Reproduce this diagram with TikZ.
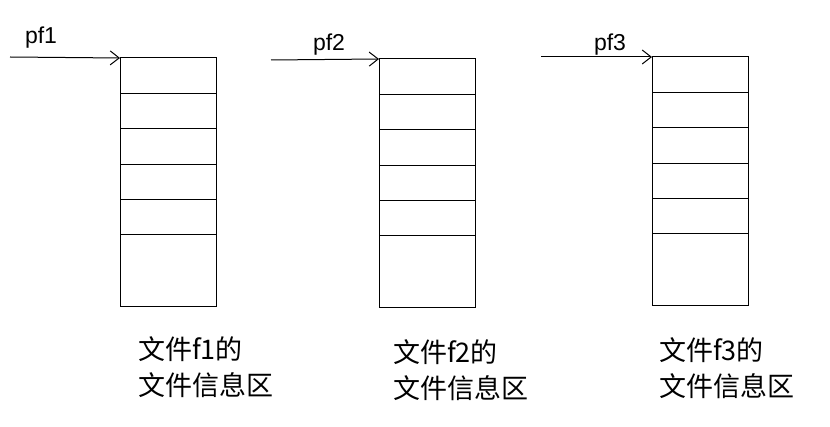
\documentclass[tikz,border=0pt]{standalone}
\usepackage{fontspec}
\setmainfont{Liberation Sans}
\newfontfamily\cjk{Noto Sans CJK SC}
\usetikzlibrary{arrows.meta}
\begin{document}
\begin{tikzpicture}[x=1pt,y=-1pt,
  cell/.style={draw,line width=1pt},
  ptr/.style={-{Straight Barb[length=9pt,width=14pt]},line width=1pt},
  lab/.style={font=\fontsize{23}{25}\selectfont,inner sep=0pt},
  captext/.style={font=\cjk\fontsize{27}{36}\selectfont,align=left,inner sep=0pt,anchor=north west}]
\useasboundingbox (0,0) rectangle (830,427);
\foreach \bx/\top/\name in {120/58/b1,379/59/b2,652/57/b3}{
  \draw[cell] (\bx,\top) rectangle (\bx+96,\top+249);
  \foreach \k in {1,...,5}{\draw[cell] (\bx,\top+35.4*\k) -- (\bx+96,\top+35.4*\k);}
  \coordinate (\name) at (\bx,\top);
}
\coordinate (s1) at (10,57);
\coordinate (s2) at (271,60);
\coordinate (s3) at (541,57);
\draw[ptr] (s1) -- (b1);
\draw[ptr] (s2) -- (b2);
\draw[ptr] (s3) -- (b3);
\node[lab] (p1) at (41,38) {pf1};
\node[lab] (p2) at (329,45) {pf2};
\node[lab] (p3) at (610,45) {pf3};
\node[captext] (c1) at (138,336) {文件f1的\\文件信息区};
\node[captext] (c2) at (393,339) {文件f2的\\文件信息区};
\node[captext] (c3) at (659,337) {文件f3的\\文件信息区};
\end{tikzpicture}
\end{document}
